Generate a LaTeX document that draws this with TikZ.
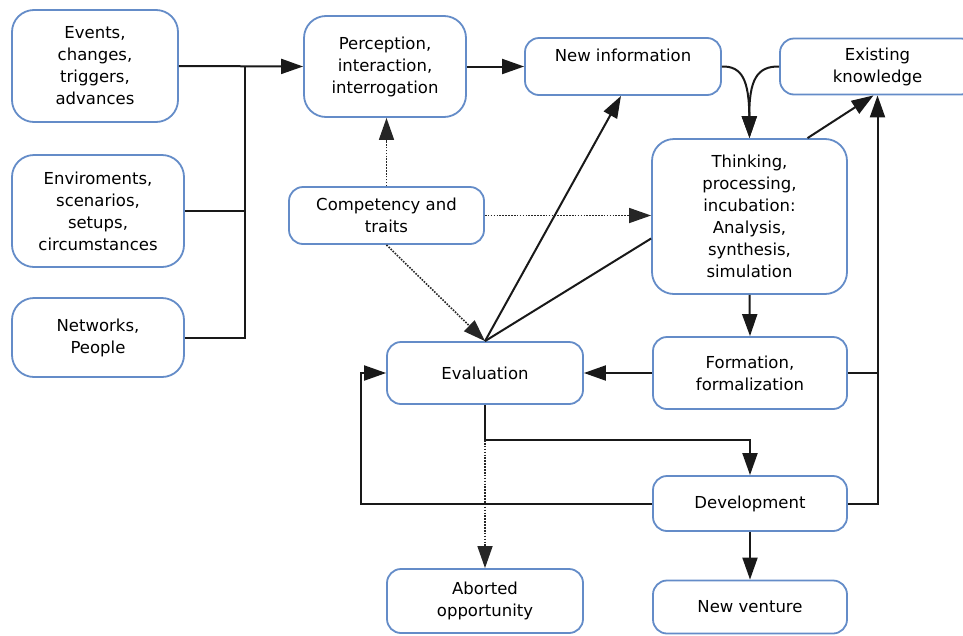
\documentclass[tikz,border=0pt]{standalone}
\usepackage{fontspec}
\setmainfont{DejaVu Sans}
\usetikzlibrary{arrows.meta}
\definecolor{boxblue}{RGB}{100,140,200}
\tikzset{
  box/.style={draw=boxblue, line width=1.8pt, fill=white, align=center,
    inner sep=0pt, font=\fontsize{16.5}{22}\selectfont, text=black},
  bigbox/.style={box, rounded corners=22pt},
  smallbox/.style={box, rounded corners=14pt},
  tip/.style={-{Triangle[length=22pt,width=15pt]}},
  conn/.style={line width=2pt, draw=black!90},
  arr/.style={conn, tip},
  dotconn/.style={line width=1.6pt, draw=black!85, dash pattern=on 1.6pt off 1.3pt},
  dotarr/.style={dotconn, tip}
}
\begin{document}
\begin{tikzpicture}[x=1pt,y=-1pt]
\useasboundingbox (0,0) rectangle (963,635);
% nodes
\node[bigbox, minimum width=166pt, minimum height=112pt] (ev) at (95,66) {Events,\\changes,\\triggers,\\advances};
\node[bigbox, minimum width=172pt, minimum height=112pt] (env) at (98,211) {Enviroments,\\scenarios,\\setups,\\circumstances};
\node[bigbox, minimum width=172pt, minimum height=79pt] (net) at (98,337.5) {Networks,\\People};
\node[bigbox, minimum width=162pt, minimum height=101pt] (per) at (385,66.5) {Perception,\\interaction,\\interrogation};
\node[smallbox, minimum width=195pt, minimum height=57pt] (comp) at (386.5,215.5) {Competency and\\traits};
\node[smallbox, minimum width=196pt, minimum height=57pt] (newinfo) at (623,66.5) {New information\\\mbox{}};
\node[smallbox, minimum width=195pt, minimum height=56pt] (exist) at (877.5,66.5) {Existing\\knowledge};
\node[bigbox, minimum width=195pt, minimum height=155pt] (think) at (749.5,216.5) {Thinking,\\processing,\\incubation:\\Analysis,\\synthesis,\\simulation};
\node[smallbox, minimum width=196pt, minimum height=62pt] (eval) at (485,373) {Evaluation};
\node[smallbox, minimum width=194pt, minimum height=72pt] (form) at (750,373) {Formation,\\formalization};
\node[smallbox, minimum width=194pt, minimum height=55pt] (dev) at (750,503.5) {Development};
\node[smallbox, minimum width=196pt, minimum height=64pt] (abort) at (485,601) {Aborted\\opportunity};
\node[smallbox, minimum width=194pt, minimum height=53pt] (newv) at (750,607) {New venture};
% junction coordinates
\coordinate (j1) at (245,66);
\coordinate (j3) at (485,440);
\coordinate (j4) at (361,503.5);
% connectors
\draw[arr] (ev.east) -- (per.west);
\draw[conn] (env.east) -- (env.east -| j1);
\draw[conn] (net.east) -| (j1);
\draw[arr] (per.east) -- (newinfo.west);
\draw[dotarr] (comp.north) -- (comp.north |- per.south);
\draw[dotarr] (comp.east) -- (comp.east -| think.west);
\draw[dotarr] (comp.south) -- (eval.north);
\draw[arr] (eval.north) -- ([xshift=-2pt]newinfo.south);
\draw[conn] ([yshift=-22pt]think.west) -- (eval.north);
\draw[arr] (newinfo.east) .. controls (742,66) and (749,80) .. (think.north);
\draw[arr] (exist.west) .. controls (757,66) and (749,80) .. (think.north);
\draw[arr] ([xshift=58pt]think.north) -- ([xshift=-4pt]exist.south);
\draw[arr] (dev.east) -| (exist.south);
\draw[conn] (form.east) -- (form.east -| exist.south);
\draw[arr] (think.south) -- (form.north);
\draw[arr] (form.west) -- (eval.east);
\draw[arr] (eval.south) -- (j3) -| (dev.north);
\draw[dotarr] (j3) -- (abort.north);
\draw[arr] (dev.west) -- (j4) |- (eval.west);
\draw[arr] (dev.south) -- (newv.north);
\end{tikzpicture}
\end{document}
